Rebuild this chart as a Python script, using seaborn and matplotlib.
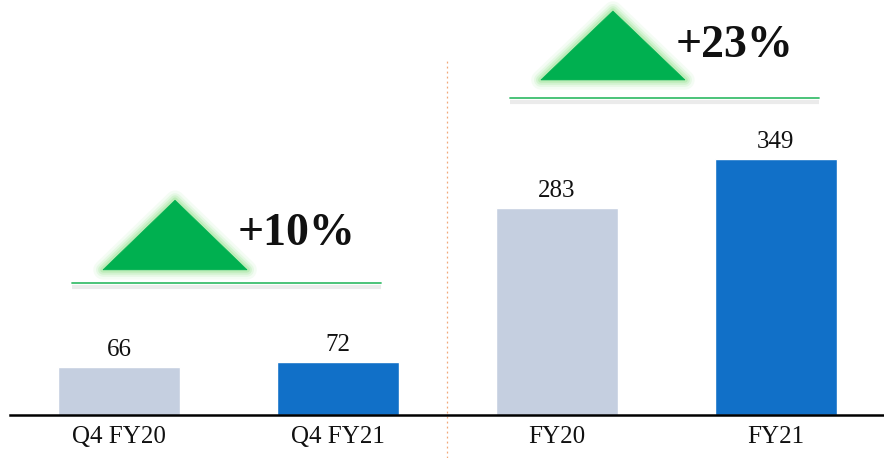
import matplotlib
matplotlib.use("Agg")
import matplotlib.pyplot as plt
import seaborn as sns
import pandas as pd
import numpy as np

categories = ["Q4 FY20", "Q4 FY21", "FY20", "FY21"]
values = [66, 72, 283, 349]
series = ["prev", "curr", "prev", "curr"]
growth_labels = ["+10%", "+23%"]

palette = {"prev": "#C5CFE0", "curr": "#1170C8"}

sns.set_theme(style="white")
plt.rcParams["font.family"] = ["Liberation Serif", "DejaVu Serif"]

df = pd.DataFrame({"cat": categories, "val": values, "ser": series})

fig = plt.figure(figsize=(8.84, 4.58), dpi=100)
ax = fig.add_axes([9.5 / 884, 43 / 458, 1 - 9.5 / 884, 415 / 458])
sns.barplot(data=df, x="cat", y="val", hue="ser", palette=palette,
            dodge=False, width=0.557, legend=False, ax=ax, saturation=1)

ax.set_xlim(-0.5, 3.494)
ax.set_ylim(0, 566)
ax.set_xlabel("")
ax.set_ylabel("")
ax.set_yticks([])
for s in ["top", "right", "left"]:
    ax.spines[s].set_visible(False)
ax.spines["bottom"].set_color("black")
ax.spines["bottom"].set_linewidth(1.8)
ax.tick_params(axis="x", length=0, pad=8, labelsize=18, colors="#111111")

for i, v in enumerate(values):
    ax.text(i, v + 8, f"{v}", ha="center", va="bottom", fontsize=18, color="#111111")

# separator
ax.plot([1.5, 1.5], [-0.104, 0.855], transform=ax.get_xaxis_transform(),
        color="#F2A878", lw=0.9, ls=(0, (1.5, 2.5)), clip_on=False)

# growth indicators
green = "#00B050"
glow = "#9BE495"
groups = [
    dict(cx=0.5, base_y=198, apex_y=293, line_y=180, label=growth_labels[0], text_y=247),
    dict(cx=2.5, base_y=457, apex_y=551, line_y=432, label=growth_labels[1], text_y=503),
]
for g in groups:
    cx = g["cx"]
    tx = [cx - 0.573, cx - 0.244, cx + 0.085]
    ty = [g["base_y"], g["apex_y"], g["base_y"]]
    for lw, a in [(14, 0.10), (10, 0.16), (7, 0.25), (4, 0.4)]:
        ax.fill(tx, ty, facecolor="none", edgecolor=glow, lw=lw, alpha=a,
                joinstyle="round", zorder=3)
    ax.fill(tx, ty, facecolor=green, edgecolor=green, lw=0.5, zorder=4)
    # shadow + line
    ax.plot([cx - 0.715, cx + 0.696], [g["line_y"] - 5, g["line_y"] - 5],
            color="#D8D8D8", lw=3, alpha=0.5, zorder=2, solid_capstyle="butt")
    ax.plot([cx - 0.715, cx + 0.696], [g["line_y"], g["line_y"]],
            color="#3DBE6E", lw=1.3, zorder=3)
    ax.text(cx + 0.043, g["text_y"], g["label"], ha="left", va="center",
            fontsize=33, fontweight="bold", color="#111111", zorder=5)

fig.savefig("out.png", dpi=100, facecolor="white")
